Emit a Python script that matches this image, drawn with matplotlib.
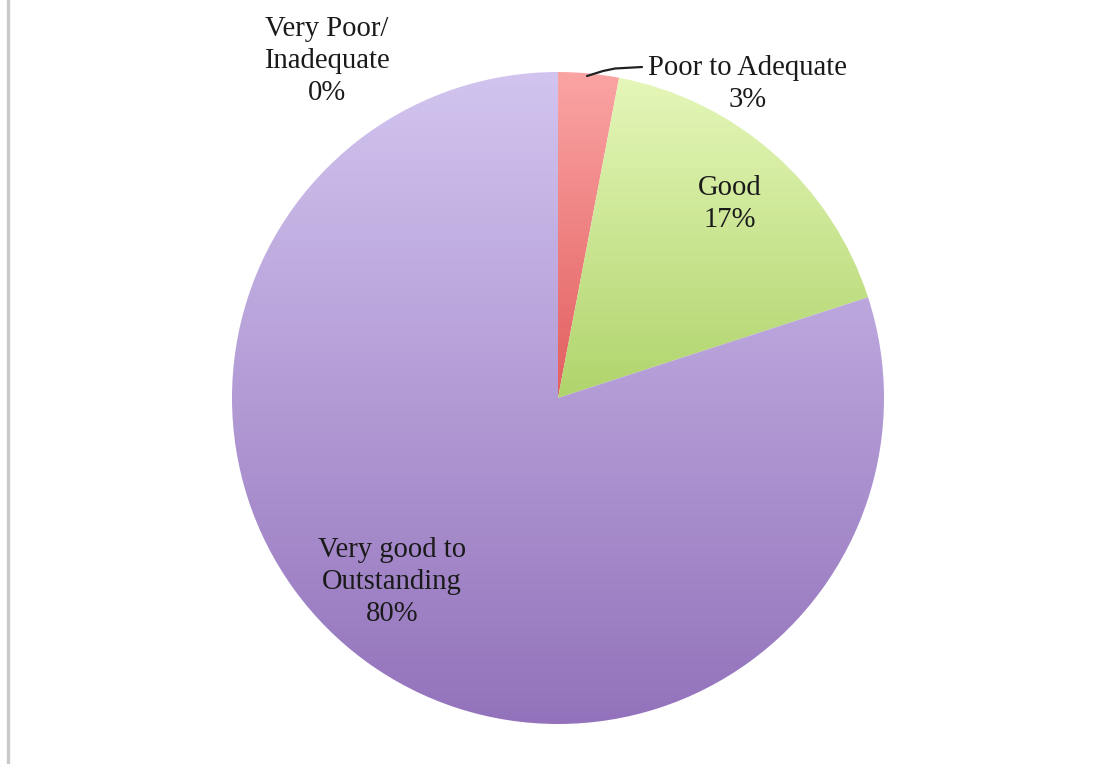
import numpy as np
import matplotlib
matplotlib.use("Agg")
import matplotlib.pyplot as plt
from matplotlib.colors import LinearSegmentedColormap
from matplotlib.lines import Line2D

# Survey ratings
categories = ["Very Poor/\nInadequate", "Poor to Adequate", "Good", "Very good to\nOutstanding"]
shares = [0, 3, 17, 80]

# Vertical gradient per slice: (top colour, bottom colour)
slice_colors = [
    ("#f4b8b8", "#e07070"),
    ("#fba4a4", "#e25e5e"),
    ("#e5f7b9", "#b0d46c"),
    ("#d2c4ef", "#9372bb"),
]

W, H = 1095, 764
R_PX = 326.0
CX, CY = 558.0, 398.0  # pie centre in pixels from top-left

fig = plt.figure(figsize=(W / 100, H / 100), dpi=100)
ax = fig.add_axes([0, 0, 1, 1])

wedges, _ = ax.pie(shares, startangle=90, counterclock=False, radius=1.0,
                   center=(0, 0), frame=True,
                   wedgeprops=dict(linewidth=0, antialiased=True))

grad = np.linspace(0, 1, 256).reshape(-1, 1)
for w, (top, bot) in zip(wedges, slice_colors):
    w.set_facecolor("none")
    w.set_edgecolor("none")
    verts = w.get_path().vertices
    if len(verts) == 0:
        continue
    x0, x1 = verts[:, 0].min(), verts[:, 0].max()
    y0, y1 = verts[:, 1].min(), verts[:, 1].max()
    if x1 - x0 < 1e-6:
        continue
    cmap = LinearSegmentedColormap.from_list("g", [top, bot])
    im = ax.imshow(grad, cmap=cmap, aspect="auto", extent=(x0, x1, y0, y1),
                   origin="upper", interpolation="bilinear", zorder=1)
    im.set_clip_path(w)

ax.set_xlim(-CX / R_PX, (W - CX) / R_PX)
ax.set_ylim(-(H - CY) / R_PX, CY / R_PX)
ax.axis("off")


def px(x, y):
    return (x - CX) / R_PX, (CY - y) / R_PX


font = dict(family=["Liberation Serif", "DejaVu Serif"], fontsize=20.6,
            color="#1a1a1a", ha="center", va="center", linespacing=1.3)

label_pos = [(327, 61), (748, 84), (730, 204), (392, 582)]
for name, val, (lx, ly) in zip(categories, shares, label_pos):
    ax.text(*px(lx, ly), f"{name}\n{val}%", zorder=5, **font)

# Leader line for the thin slice
lead = np.array([px(587, 76), px(603, 71), px(615, 68.5), px(642, 67)])
ax.plot(lead[:, 0], lead[:, 1], color="#222222", lw=1.6, zorder=5,
        solid_capstyle="round")

# Left frame edge
fig.add_artist(Line2D([8 / W, 8 / W], [0, 1], transform=fig.transFigure,
                      color="#c9c9c9", lw=2.4))

fig.savefig("out.png", dpi=100, facecolor="white")
